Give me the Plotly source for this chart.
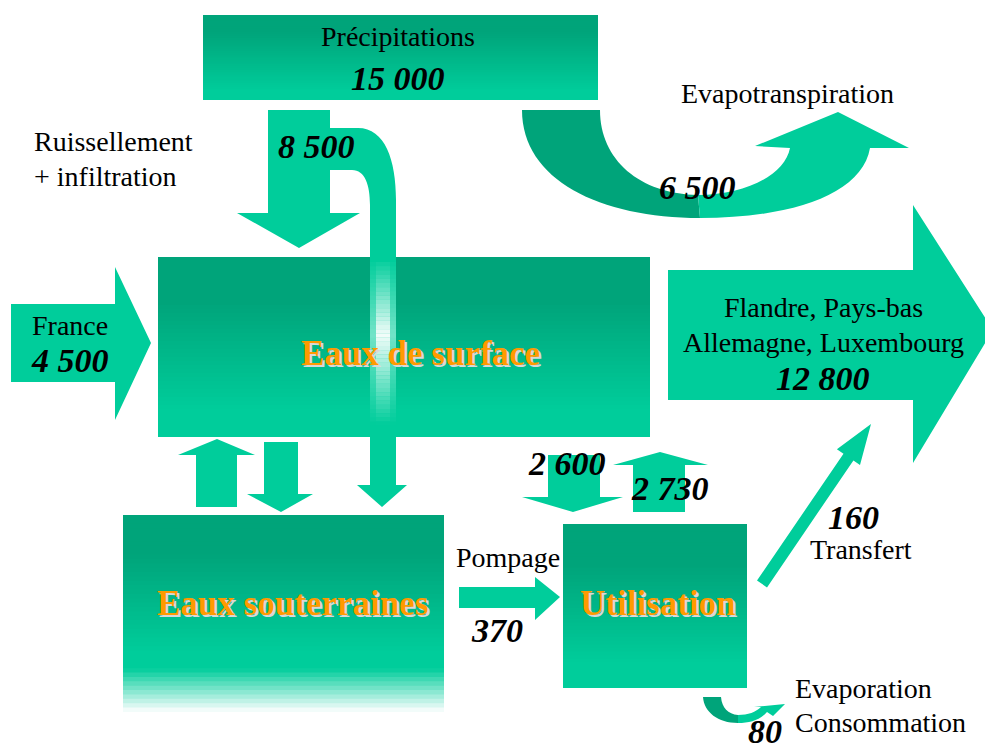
import math
import plotly.graph_objects as go

# Flow values (millions m3 / an)
node_names = ["Précipitations", "Eaux de surface", "Eaux souterraines", "Utilisation"]
flow_names = ["Précipitations", "Ruissellement + infiltration", "Evapotranspiration", "France",
              "Flandre, Pays-bas Allemagne, Luxembourg", "Vers utilisation", "Retour utilisation",
              "Pompage", "Transfert", "Evaporation Consommation"]
flow_values = [15000, 8500, 6500, 4500, 12800, 2600, 2730, 370, 160, 80]

LIGHT = "#00CD9B"
DARK = "#00A47A"
ORANGE = "#FF9A00"
SERIF = "Liberation Serif"
PAGE_OFFSET = 8  # default body margin of the html page


def fmt(v):
    return f"{v:,}".replace(",", " ")


def hex_rgb(c):
    c = c.lstrip("#")
    return tuple(int(c[i:i + 2], 16) for i in (0, 2, 4))


def mix(c1, c2, t):
    a, b = hex_rgb(c1), hex_rgb(c2)
    return "rgb(%d,%d,%d)" % tuple(round(a[i] + (b[i] - a[i]) * t) for i in range(3))


shapes = []


def poly(path, color):
    shapes.append(dict(type="path", path=path, fillcolor=color, line=dict(width=0),
                       xref="x", yref="y", layer="above"))


def rect(x0, x1, y0, y1, color):
    shapes.append(dict(type="rect", x0=x0, x1=x1, y0=y0, y1=y1, fillcolor=color,
                       line=dict(width=0), xref="x", yref="y", layer="above"))


def grad_box(x0, x1, y0, y1, stops, n=45):
    # stops: list of (pos, colour) along y
    h = (y1 - y0) / n
    for i in range(n):
        t = (i + 0.5) / n
        col = stops[-1][1]
        for j in range(len(stops) - 1):
            if stops[j][0] <= t <= stops[j + 1][0]:
                u = (t - stops[j][0]) / (stops[j + 1][0] - stops[j][0])
                col = mix(stops[j][1], stops[j + 1][1], u)
                break
        rect(x0, x1, y0 + i * h, min(y1, y0 + (i + 1) * h + 1), col)


box_stops = [(0, DARK), (0.25, DARK), (0.85, LIGHT), (1, LIGHT)]

# Précipitations box
grad_box(203, 598, 15, 100, [(0, DARK), (0.2, DARK), (0.9, LIGHT), (1, LIGHT)])

# Evapotranspiration curved arrow
poly("M 522 110 L 600 110 C 600 160, 640 194, 698 195 L 700 218 C 600 218, 522 180, 522 110 Z", DARK)
poly("M 698 195 C 745 195, 785 175, 790 148 L 755 146 L 838 112 L 909 148 L 870 148 "
     "C 862 195, 790 218, 700 218 Z", LIGHT)

# 8 500 arrow
poly("M 268 110 L 330 110 L 330 213 L 360 213 L 299 248 L 237 213 L 268 213 Z", LIGHT)

# Eaux de surface box
grad_box(158, 650, 257, 437, box_stops)

# branch towards groundwater, drawn over the box
poly("M 330 128 L 358 128 C 385 128, 396 160, 396 200 L 396 485 L 407 485 L 382 507 "
     "L 357 485 L 370 485 L 370 205 C 370 185, 365 170, 352 170 L 330 170 Z", LIGHT)
n = 40
for i in range(n):
    y0 = 262 + i * (430 - 262) / n
    y1 = y0 + (430 - 262) / n + 0.8
    yc = (y0 + y1) / 2
    f = max(0.0, 1 - abs(yc - 335) / 75) if yc < 335 else max(0.0, 1 - abs(yc - 335) / 90)
    rect(370, 396, y0, y1, mix(LIGHT, "#FFFFFF", 0.45 * f))
    rect(376, 390, y0, y1, mix(LIGHT, "#FFFFFF", 0.95 * f))

# France arrow
poly("M 11 304 L 115 304 L 115 267 L 151 343 L 115 420 L 115 382 L 11 382 Z", LIGHT)

# exchanges surface <-> souterraines
poly("M 196 507 L 196 455 L 178 455 L 217 439 L 255 455 L 237 455 L 237 507 Z", LIGHT)
poly("M 264 442 L 298 442 L 298 494 L 313 494 L 281 512 L 247 494 L 264 494 Z", LIGHT)

# Eaux souterraines box (fades to white at the bottom)
grad_box(123, 444, 515, 712, [(0, DARK), (0.2, DARK), (0.7, LIGHT), (0.78, LIGHT), (1, "#FFFFFF")])

# Big outflow arrow
poly("M 668 270 L 913 270 L 913 205 L 993 330 L 913 463 L 913 400 L 668 400 Z", LIGHT)

# 2 600 / 2 730
poly("M 548 455 L 600 455 L 600 497 L 623 497 L 573 512 L 522 497 L 548 497 Z", LIGHT)
poly("M 633 512 L 633 465 L 613 465 L 660 452 L 708 465 L 685 465 L 685 512 Z", LIGHT)

# Pompage arrow
poly("M 459 587 L 535 587 L 535 577 L 560 597 L 535 620 L 535 608 L 459 608 Z", LIGHT)

# Utilisation box
grad_box(563, 747, 524, 688, box_stops)

# Transfert arrow
tx0, ty0, tx1, ty1 = 762, 584, 871, 424
dx, dy = tx1 - tx0, ty1 - ty0
L = math.hypot(dx, dy)
ux, uy = dx / L, dy / L
px, py = -uy, ux
hl, hw, sw = 40, 14, 6
bx, by = tx1 - ux * hl, ty1 - uy * hl
pts = [(tx0 + px * sw, ty0 + py * sw), (bx + px * sw, by + py * sw), (bx + px * hw, by + py * hw),
       (tx1, ty1), (bx - px * hw, by - py * hw), (bx - px * sw, by - py * sw), (tx0 - px * sw, ty0 - py * sw)]
poly("M " + " L ".join(f"{x:.1f} {y:.1f}" for x, y in pts) + " Z", LIGHT)

# Evaporation / consommation small curved arrow
poly("M 703 697 L 721 697 C 722 708, 728 714, 738 715 L 738 723 C 718 723, 704 712, 703 697 Z", DARK)
poly("M 738 715 C 748 715, 756 712, 761 707 L 754 707 L 785 704 L 773 716 L 767 712 "
     "C 760 720, 750 723, 738 723 Z", LIGHT)

ann = []


def txt(x, y, s, size=28, color="black", bold=False, italic=False, anchor="center", shadow="none"):
    ann.append(dict(x=x, y=y, text=s, showarrow=False, xref="x", yref="y", xanchor=anchor, yanchor="middle",
                    font=dict(family=SERIF, size=size, color=color, shadow=shadow,
                              weight="bold" if bold else "normal",
                              style="italic" if italic else "normal")))


def num(x, y, v):
    txt(x, y, fmt(v), size=34, bold=True, italic=True)


def node(x, y, s):
    txt(x, y, s, size=35, color=ORANGE, bold=True, shadow="2px 2px 0px #D8D8D8")


txt(398, 36, node_names[0])
num(398, 78, flow_values[0])
txt(787, 93, flow_names[2])
num(697, 187, flow_values[2])
txt(32, 141, "Ruissellement", anchor="left")
txt(32, 176, "+ infiltration", anchor="left")
num(316, 146, flow_values[1])
txt(70, 325, flow_names[3])
num(70, 360, flow_values[3])
node(420, 353, node_names[1])
txt(823, 307, "Flandre, Pays-bas")
txt(823, 342, "Allemagne, Luxembourg")
num(823, 378, flow_values[4])
num(567, 463, flow_values[5])
num(670, 488, flow_values[6])
node(292, 603, node_names[2])
txt(508, 557, flow_names[7])
num(497, 630, flow_values[7])
node(658, 603, node_names[3])
num(853, 517, flow_values[8])
txt(861, 549, "Transfert")
txt(863, 688, "Evaporation")
txt(880, 722, "Consommation")
num(765, 731, flow_values[9])

fig = go.Figure()
fig.update_layout(
    width=993, height=751,
    margin=dict(l=0, r=0, t=0, b=0),
    paper_bgcolor="white", plot_bgcolor="white",
    xaxis=dict(range=[PAGE_OFFSET, 993 + PAGE_OFFSET], visible=False, fixedrange=True),
    yaxis=dict(range=[751 + PAGE_OFFSET, PAGE_OFFSET], visible=False, fixedrange=True),
    shapes=shapes, annotations=ann, showlegend=False,
)
fig.write_html("out.html")
